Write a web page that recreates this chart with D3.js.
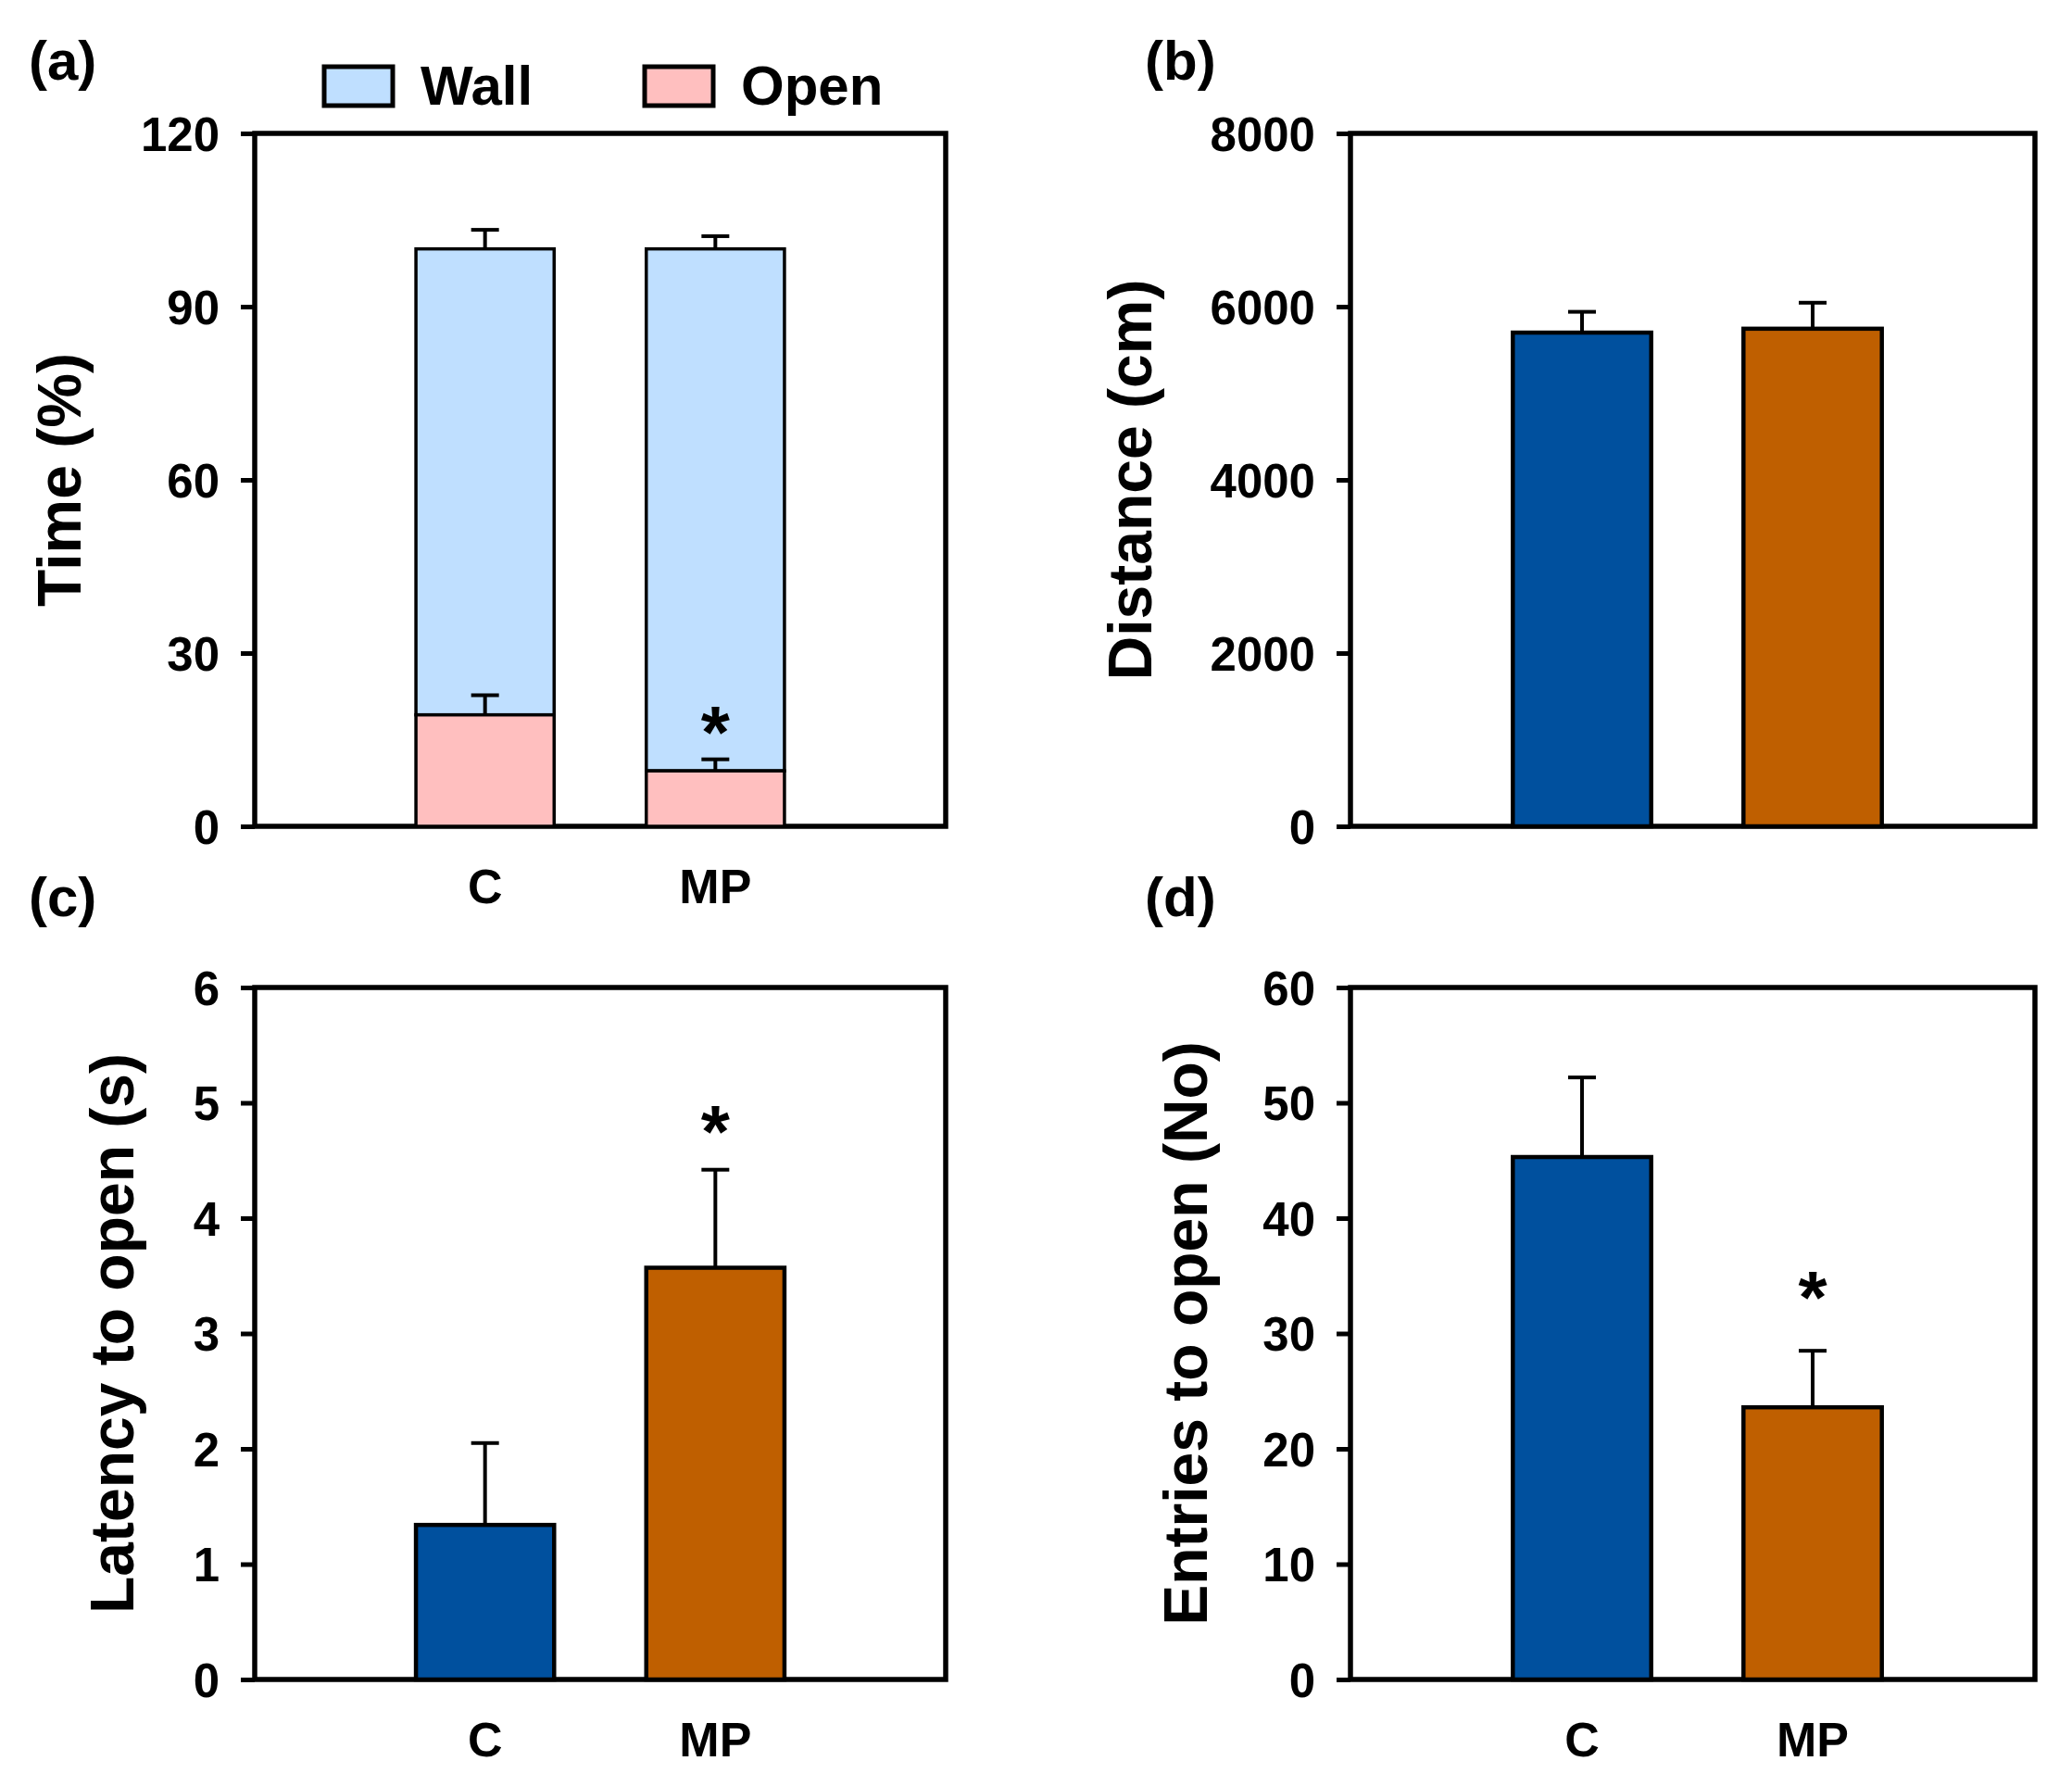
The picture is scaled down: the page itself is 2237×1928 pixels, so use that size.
<!DOCTYPE html>
<html>
<head>
<meta charset="utf-8">
<script src="https://cdn.jsdelivr.net/npm/d3@7"></script>
<style>
  body { margin: 0; background: #fff; }
  text { font-family: "Liberation Sans", Arial, sans-serif; font-weight: bold; fill: #000; }
</style>
</head>
<body>
<div id="graph-container"></div>
<script>
// groups on the x axis
const groups = ["C", "MP"];

// (a) time in zone, %
const wallTime = [100, 100];
const wallErr = [3.3, 2.2];
const openTime = [19.3, 9.6];
const openErr = [3.4, 2.0];
const timeTicks = [0, 30, 60, 90, 120];

// (b) distance, cm
const distance = [5700, 5745];
const distanceErr = [240, 300];
const distanceTicks = [0, 2000, 4000, 6000, 8000];

// (c) latency to open, s
const latency = [1.34, 3.57];
const latencyErr = [0.71, 0.85];
const latencyTicks = [0, 1, 2, 3, 4, 5, 6];

// (d) entries to open
const entries = [45.3, 23.6];
const entriesErr = [6.9, 4.9];
const entriesTicks = [0, 10, 20, 30, 40, 50, 60];

const groupColors = ["#00509E", "#BF5F00"];
const wallColor = "#BFDFFF";
const openColor = "#FFBFBF";

document.addEventListener("DOMContentLoaded", function () {
	builder();
});

function builder() {
	const w = 2237;
	const h = 1928;
	const svg = d3.select("#graph-container")
		.append("svg")
		.attr("width", w)
		.attr("height", h);

	const colL = [275, 1021];
	const colR = [1458, 2197];
	const pointsR = [1459, 2206]; // bars in right column sit a bit right of centre
	const rowT = [144, 892];
	const rowB = [1066, 1813];

	// panel (a) - stacked wall/open
	const a = panel(svg, colL, colL, rowT, [0, 120], timeTicks, "Time (%)", 64, true);
	stacked(a, openTime, openErr, wallTime, wallErr);
	star(a, 1, openTime[1] + openErr[1], 48);
	label(svg, "(a)", 31, 86);

	// legend
	const leg = svg.append("g");
	[["Wall", wallColor, 350], ["Open", openColor, 696]].forEach(function (d) {
		leg.append("rect").attr("x", d[2]).attr("y", 72).attr("width", 74).attr("height", 42)
			.attr("fill", d[1]).attr("stroke", "#000").attr("stroke-width", 5);
		leg.append("text").attr("x", d[2] + 104).attr("y", 113)
			.attr("font-size", 60).text(d[0]);
	});

	// panel (b)
	const b = panel(svg, colR, pointsR, rowT, [0, 8000], distanceTicks, "Distance (cm)", 1220, false);
	bars(b, distance, distanceErr);
	label(svg, "(b)", 1236, 86);

	// panel (c)
	const c = panel(svg, colL, colL, rowB, [0, 6], latencyTicks, "Latency to open (s)", 121, true);
	bars(c, latency, latencyErr);
	star(c, 1, latency[1] + latencyErr[1], 60);
	label(svg, "(c)", 31, 989);

	// panel (d)
	const dd = panel(svg, colR, pointsR, rowB, [0, 60], entriesTicks, "Entries to open (No)", 1280, true);
	bars(dd, entries, entriesErr);
	star(dd, 1, entries[1] + entriesErr[1], 76);
	label(svg, "(d)", 1236, 989);
}

function label(svg, t, x, y) {
	svg.append("text").attr("x", x).attr("y", y).attr("font-size", 60).text(t);
}

function panel(svg, xr, pr, yr, domain, ticks, title, titleX, showX) {
	const x = d3.scalePoint().domain(groups).range(pr).padding(1);
	const y = d3.scaleLinear().domain(domain).range([yr[1], yr[0]]);
	const g = svg.append("g");

	const yAxis = g.append("g")
		.attr("transform", `translate(${xr[0]},0)`)
		.call(d3.axisLeft(y).tickValues(ticks).tickSize(15).tickPadding(23).tickFormat(d3.format("d")));
	yAxis.select(".domain").remove();
	yAxis.selectAll("line").attr("stroke", "#000").attr("stroke-width", 5);
	yAxis.selectAll("text").attr("font-size", 51).attr("font-family", null).attr("dy", "0.36em");

	// frame
	g.append("rect")
		.attr("x", xr[0]).attr("y", yr[0])
		.attr("width", xr[1] - xr[0]).attr("height", yr[1] - yr[0])
		.attr("fill", "none").attr("stroke", "#000").attr("stroke-width", 5.5);

	if (showX) {
		g.selectAll(".xl").data(groups).enter().append("text")
			.attr("x", d => x(d)).attr("y", yr[1] + 83)
			.attr("text-anchor", "middle").attr("font-size", 52).text(d => d);
	}

	g.append("text")
		.attr("transform", `translate(${titleX},${(yr[0] + yr[1]) / 2}) rotate(-90)`)
		.attr("text-anchor", "middle").attr("dominant-baseline", "central")
		.attr("font-size", 66).text(title);

	return { g: g, x: x, y: y, bw: x.step() * 0.6 };
}

function errBar(p, cx, top, err) {
	const y0 = p.y(top), y1 = p.y(top + err);
	p.g.append("line").attr("x1", cx).attr("x2", cx).attr("y1", y0).attr("y2", y1)
		.attr("stroke", "#000").attr("stroke-width", 4);
	p.g.append("line").attr("x1", cx - 15).attr("x2", cx + 15).attr("y1", y1).attr("y2", y1)
		.attr("stroke", "#000").attr("stroke-width", 4);
}

function bars(p, vals, errs) {
	groups.forEach(function (gname, i) {
		const cx = p.x(gname);
		errBar(p, cx, vals[i], errs[i]);
		p.g.append("rect")
			.attr("x", cx - p.bw / 2).attr("y", p.y(vals[i]))
			.attr("width", p.bw).attr("height", p.y(0) - p.y(vals[i]))
			.attr("fill", groupColors[i]).attr("stroke", "#000").attr("stroke-width", 4.5);
	});
}

function stacked(p, lower, lowerErr, upper, upperErr) {
	groups.forEach(function (gname, i) {
		const cx = p.x(gname);
		errBar(p, cx, upper[i], upperErr[i]);
		p.g.append("rect")
			.attr("x", cx - p.bw / 2).attr("y", p.y(upper[i]))
			.attr("width", p.bw).attr("height", p.y(lower[i]) - p.y(upper[i]))
			.attr("fill", wallColor).attr("stroke", "#000").attr("stroke-width", 3.5);
		errBar(p, cx, lower[i], lowerErr[i]);
		p.g.append("rect")
			.attr("x", cx - p.bw / 2).attr("y", p.y(lower[i]))
			.attr("width", p.bw).attr("height", p.y(0) - p.y(lower[i]))
			.attr("fill", openColor).attr("stroke", "#000").attr("stroke-width", 3.5);
	});
}

function star(p, i, top, gap) {
	p.g.append("text")
		.attr("x", p.x(groups[i])).attr("y", p.y(top) - gap + 46)
		.attr("text-anchor", "middle").attr("font-size", 80).text("*");
}
</script>
</body>
</html>
